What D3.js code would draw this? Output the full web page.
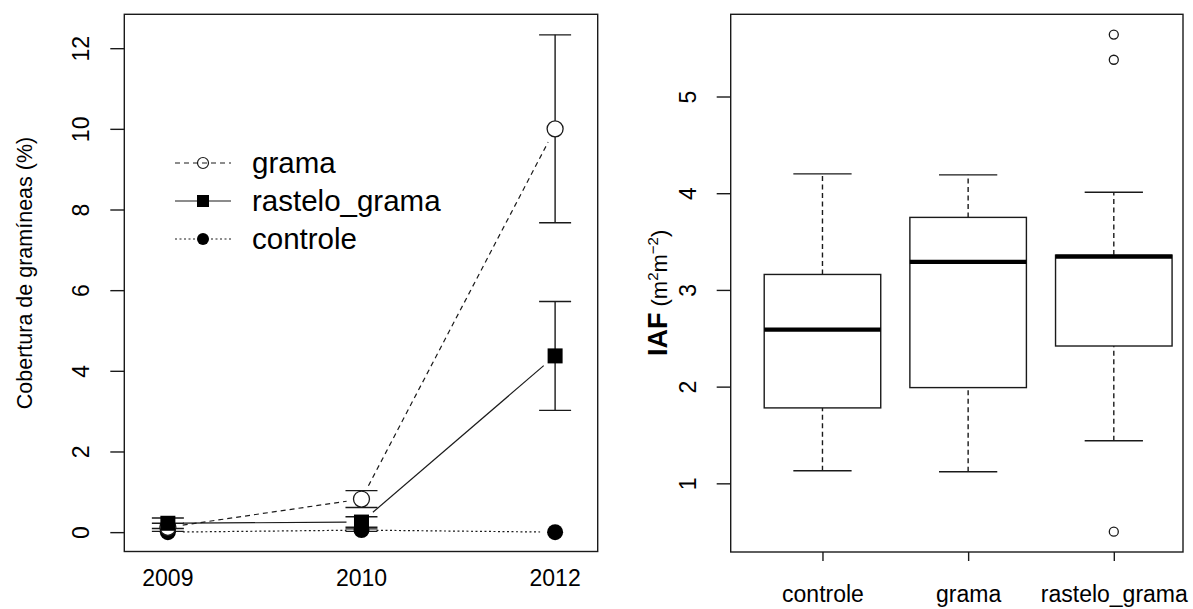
<!DOCTYPE html>
<html><head><meta charset="utf-8">
<script src="https://cdn.jsdelivr.net/npm/d3@7"></script>
<style>body{margin:0;background:#fff}svg{display:block}text{font-family:"Liberation Sans",Arial,sans-serif;fill:#000}</style>
</head><body><svg id="c" width="1193" height="609"></svg>
<script>
// ---------- data ----------
const years = ["2009", "2010", "2012"];
const gramaMean = [0.12, 0.82, 10.0];
const gramaSE = [0.10, 0.21, 2.33];
const rasteloMean = [0.22, 0.25, 4.37];
const rasteloSE = [0.13, 0.13, 1.35];
const controleMean = [0.0, 0.05, 0.0];
const controleSE = [0.0, 0.03, 0.0];
const leftTicks = [0, 2, 4, 6, 8, 10, 12];
const legendLabels = ["grama", "rastelo_grama", "controle"];

const groups = ["controle", "grama", "rastelo_grama"];
const boxStats = [ // [lower whisker, Q1, median, Q3, upper whisker]
  [1.13, 1.78, 2.59, 3.16, 4.20],
  [1.12, 1.99, 3.29, 3.75, 4.19],
  [1.44, 2.42, 3.345, 3.36, 4.01]
];
const outliers = [[], [], [5.64, 5.38, 0.50]];
const rightTicks = [1, 2, 3, 4, 5];

// ---------- layout ----------
const svg = d3.select("#c");
const L = {x0: 124.3, x1: 597.7, y0: 14.3, y1: 551.5};
const R = {x0: 730.7, x1: 1183, y0: 14.3, y1: 552};
const lw = 1.4, col = "#1a1a1a";

// ===== LEFT PANEL =====
const xL = d3.scaleLinear().domain([0.775, 3.22]).range([L.x0, L.x1]);
const yL = d3.scaleLinear().domain([-0.48, 12.84]).range([L.y1, L.y0]);
const gL = svg.append("g");

const series = [
  {mean: gramaMean, se: gramaSE, dash: "5,4", shape: "open"},
  {mean: rasteloMean, se: rasteloSE, dash: null, shape: "square"},
  {mean: controleMean, se: controleSE, dash: "2,2.5", shape: "dot"}
];

// error bars
series.forEach(s => {
  s.mean.forEach((m, i) => {
    if (s.se[i] <= 0) return;
    const x = xL(i + 1), yt = yL(m + s.se[i]), yb = yL(m - s.se[i]);
    gL.append("line").attr("x1", x).attr("x2", x).attr("y1", yt).attr("y2", yb).attr("stroke", col).attr("stroke-width", lw);
    [yt, yb].forEach(yy => gL.append("line").attr("x1", x - 16).attr("x2", x + 16).attr("y1", yy).attr("y2", yy).attr("stroke", col).attr("stroke-width", lw));
  });
});
// lines (type "b": gaps around points)
const gap = 15;
series.forEach(s => {
  for (let i = 0; i < s.mean.length - 1; i++) {
    const ax = xL(i + 1), ay = yL(s.mean[i]), bx = xL(i + 2), by = yL(s.mean[i + 1]);
    const d = Math.hypot(bx - ax, by - ay), ux = (bx - ax) / d, uy = (by - ay) / d;
    const ln = gL.append("line").attr("x1", ax + ux * gap).attr("y1", ay + uy * gap)
      .attr("x2", bx - ux * gap).attr("y2", by - uy * gap).attr("stroke", col).attr("stroke-width", 1.2);
    if (s.dash) ln.attr("stroke-dasharray", s.dash);
  }
});
// points
function drawMarker(g, shape, x, y, size) {
  if (shape === "open") g.append("circle").attr("cx", x).attr("cy", y).attr("r", size).attr("fill", "#fff").attr("stroke", col).attr("stroke-width", 1.3);
  else if (shape === "dot") g.append("circle").attr("cx", x).attr("cy", y).attr("r", size).attr("fill", "#000");
  else g.append("rect").attr("x", x - size).attr("y", y - size).attr("width", 2 * size).attr("height", 2 * size).attr("fill", "#000");
}
[series[2], series[0], series[1]].forEach(s => {
  s.mean.forEach((m, i) => drawMarker(gL, s.shape, xL(i + 1), yL(m), s.shape === "square" ? 7.5 : 8));
});

// frame
gL.append("rect").attr("x", L.x0).attr("y", L.y0).attr("width", L.x1 - L.x0).attr("height", L.y1 - L.y0)
  .attr("fill", "none").attr("stroke", col).attr("stroke-width", lw);
// y axis
const axL = gL.append("g").attr("transform", `translate(${L.x0},0)`)
  .call(d3.axisLeft(yL).tickValues(leftTicks).tickSize(14).tickFormat(d3.format("d")));
axL.select(".domain").remove();
axL.selectAll(".tick line").attr("stroke", col).attr("stroke-width", lw);
axL.selectAll(".tick text").attr("x", null).attr("dy", null).attr("text-anchor", "middle")
  .attr("transform", "translate(-35,0) rotate(-90)").attr("font-size", 23);
// x labels
years.forEach((t, i) => gL.append("text").attr("x", xL(i + 1)).attr("y", 586).attr("text-anchor", "middle").attr("font-size", 23).text(t));
// y title
gL.append("text").attr("transform", `translate(32,273) rotate(-90)`).attr("text-anchor", "middle")
  .attr("font-size", 21.5).text("Cobertura de gramíneas (%)");

// legend
const legY = [163, 201, 239];
const legX0 = 175, legX1 = 231, legMid = 203;
series.forEach((s, i) => {
  const ln = gL.append("line").attr("x1", legX0).attr("x2", legX1).attr("y1", legY[i]).attr("y2", legY[i]).attr("stroke", col).attr("stroke-width", 1.2);
  if (s.dash) ln.attr("stroke-dasharray", s.dash);
  if (s.shape === "open") gL.append("circle").attr("cx", legMid).attr("cy", legY[i]).attr("r", 5.5).attr("fill", "none").attr("stroke", col).attr("stroke-width", 1.2);
  else drawMarker(gL, s.shape, legMid, legY[i], 6);
  gL.append("text").attr("x", 252).attr("y", legY[i] + 10).attr("font-size", 29.5).text(legendLabels[i]);
});

// ===== RIGHT PANEL =====
const xR = d3.scaleLinear().domain([0.37, 3.475]).range([R.x0, R.x1]);
const yR = d3.scaleLinear().domain([0.29, 5.85]).range([R.y1, R.y0]);
const gR = svg.append("g");
const bw = 0.4, sw = 0.2;
boxStats.forEach((b, i) => {
  const c = i + 1;
  const xl = xR(c - bw), xr = xR(c + bw), xc = xR(c);
  [[b[0], b[1]], [b[3], b[4]]].forEach(([a, z]) => gR.append("line").attr("x1", xc).attr("x2", xc).attr("y1", yR(a)).attr("y2", yR(z))
    .attr("stroke", col).attr("stroke-width", lw).attr("stroke-dasharray", "5,3.5"));
  [b[0], b[4]].forEach(v => gR.append("line").attr("x1", xR(c - sw)).attr("x2", xR(c + sw)).attr("y1", yR(v)).attr("y2", yR(v)).attr("stroke", col).attr("stroke-width", lw));
  gR.append("rect").attr("x", xl).attr("y", yR(b[3])).attr("width", xr - xl).attr("height", yR(b[1]) - yR(b[3]))
    .attr("fill", "#fff").attr("stroke", col).attr("stroke-width", lw);
  gR.append("line").attr("x1", xl).attr("x2", xr).attr("y1", yR(b[2])).attr("y2", yR(b[2])).attr("stroke", "#000").attr("stroke-width", 4.2);
  outliers[i].forEach(v => gR.append("circle").attr("cx", xc).attr("cy", yR(v)).attr("r", 4.5).attr("fill", "none").attr("stroke", col).attr("stroke-width", 1.3));
});
gR.append("rect").attr("x", R.x0).attr("y", R.y0).attr("width", R.x1 - R.x0).attr("height", R.y1 - R.y0)
  .attr("fill", "none").attr("stroke", col).attr("stroke-width", lw);
const axR = gR.append("g").attr("transform", `translate(${R.x0},0)`)
  .call(d3.axisLeft(yR).tickValues(rightTicks).tickSize(14).tickFormat(d3.format("d")));
axR.select(".domain").remove();
axR.selectAll(".tick line").attr("stroke", col).attr("stroke-width", lw);
axR.selectAll(".tick text").attr("x", null).attr("dy", null).attr("text-anchor", "middle")
  .attr("transform", "translate(-35,0) rotate(-90)").attr("font-size", 23);
const axRB = gR.append("g").attr("transform", `translate(0,${R.y1})`)
  .call(d3.axisBottom(xR).tickValues([1, 2, 3]).tickSize(9).tickFormat((d, i) => groups[i]));
axRB.select(".domain").remove();
axRB.selectAll(".tick line").attr("stroke", col).attr("stroke-width", lw);
axRB.selectAll(".tick text").attr("y", null).attr("dy", null).attr("transform", "translate(0,50)").attr("font-size", 23);

// y title: IAF (m²m⁻²), pieces laid out along the rotated baseline
const tg = gR.append("g").attr("transform", `translate(667,356) rotate(-90)`);
const pieces = [
  {t: "IAF", fs: 27, dy: 0, gapAfter: 6, bold: true},
  {t: "(m", fs: 22, dy: 0, gapAfter: 0},
  {t: "2", fs: 15, dy: -9, gapAfter: 0},
  {t: "m", fs: 22, dy: 0, gapAfter: 0},
  {t: "−2", fs: 15, dy: -9, gapAfter: 0},
  {t: ")", fs: 22, dy: 0, gapAfter: 0}
];
let px = 0;
pieces.forEach(p => {
  const el = tg.append("text").attr("x", px).attr("y", p.dy).attr("font-size", p.fs)
    .attr("font-weight", p.bold ? "bold" : "normal").text(p.t);
  px += el.node().getComputedTextLength() + p.gapAfter;
});
</script></body></html>
